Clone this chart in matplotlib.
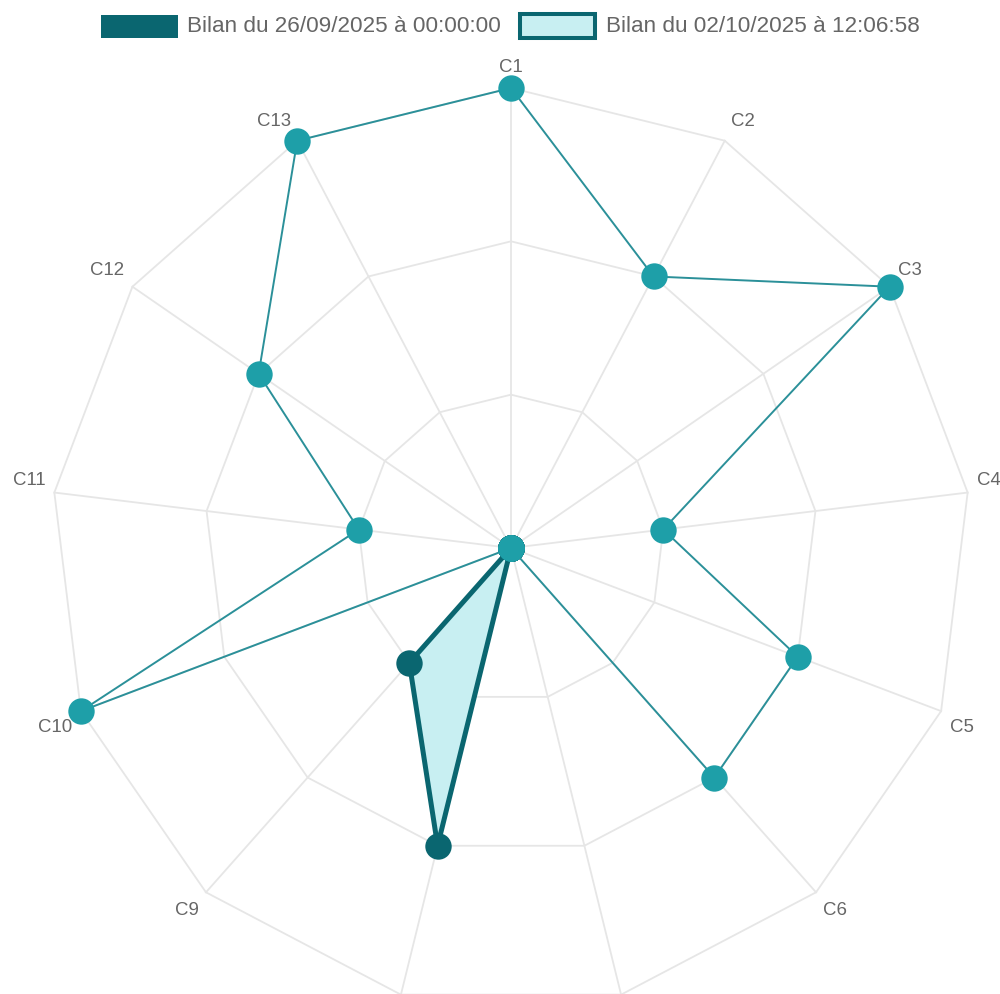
import numpy as np
import matplotlib
matplotlib.use("Agg")
import matplotlib.pyplot as plt
from matplotlib.patches import Rectangle

# ---- data ----
categories = ["C1", "C2", "C3", "C4", "C5", "C6", "C7", "C8", "C9", "C10", "C11", "C12", "C13"]
bilan_2609 = [3, 2, 3, 1, 2, 2, 0, 0, 0, 3, 1, 2, 3]
bilan_0210 = [0, 0, 0, 0, 0, 0, 0, 2, 1, 0, 0, 0, 0]
legend_labels = ["Bilan du 26/09/2025 à 00:00:00", "Bilan du 02/10/2025 à 12:06:58"]
ring_values = [1, 2, 3]
r_max = 3

# ---- style ----
DARK = "#0a6670"
TEAL_LINE = "#2b9099"
TEAL_PT = "#1e9fa8"
FILL = "#c8eff2"
GRID = "#e6e6e6"
TXT = "#666666"
FONT = ["Liberation Sans", "DejaVu Sans"]

W, H = 1000, 994
cx, cy = 511, 548          # centre in pixels (from top-left)
R_PX = 460                 # outer ring radius in pixels
s = R_PX / r_max           # px per unit

fig = plt.figure(figsize=(W / 100, H / 100), dpi=100)
ax = fig.add_axes([0, 0, 1, 1])
ax.set_xlim((0 - cx) / s, (W - cx) / s)
ax.set_ylim((cy - H) / s, cy / s)
ax.axis("off")

n = len(categories)
theta = np.deg2rad(90 - np.arange(n) * 360 / n)
cos, sin = np.cos(theta), np.sin(theta)

# grid rings
for rv in ring_values:
    xs = np.append(rv * cos, rv * cos[0])
    ys = np.append(rv * sin, rv * sin[0])
    ax.plot(xs, ys, color=GRID, lw=1.3, zorder=1, solid_joinstyle="miter")
# spokes
for i in range(n):
    ax.plot([0, r_max * cos[i]], [0, r_max * sin[i]], color=GRID, lw=1.3, zorder=1)

# point labels (labels falling below the canvas are not visible, as in the original)
for i, lab in enumerate(categories):
    c, sn = cos[i], sin[i]
    if abs(c) < 0.05:
        ha, dx = "center", 0
    elif c > 0:
        ha, dx = "left", 4 + 5 * abs(c)
    else:
        ha, dx = "right", -(4 + 5 * abs(c))
    if sn >= 0:
        dy = -(13 + 9 * sn)
    else:
        dy = 12 + 6 * abs(sn)
    y_px = cy - r_max * sn * s + dy
    if y_px - 8 > H:
        continue
    ax.annotate(lab, (r_max * c, r_max * sn), xytext=(dx, -(dy + 6.5)),
                textcoords="offset pixels", ha=ha, va="baseline",
                fontsize=13.4, color=TXT, family=FONT, zorder=2,
                annotation_clip=False)

# dataset 02/10 (filled, thick dark border)
v2 = np.array(bilan_0210, dtype=float)
x2 = np.append(v2 * cos, v2[0] * cos[0])
y2 = np.append(v2 * sin, v2[0] * sin[0])
ax.fill(x2, y2, color=FILL, zorder=3, lw=0)
ax.plot(x2, y2, color=DARK, lw=3.6, zorder=4, solid_joinstyle="round")
ax.plot(v2 * cos, v2 * sin, "o", color=DARK, ms=19, mew=0, zorder=5)

# dataset 26/09 (thin teal line)
v1 = np.array(bilan_2609, dtype=float)
x1 = np.append(v1 * cos, v1[0] * cos[0])
y1 = np.append(v1 * sin, v1[0] * sin[0])
ax.plot(x1, y1, color=TEAL_LINE, lw=1.4, zorder=6)
ax.plot(v1 * cos, v1 * sin, "o", color=TEAL_PT, ms=19, mew=0, zorder=7)

# ---- legend (manual) ----
def fx(px):
    return px / W

def fy(py):
    return 1 - py / H

fig.patches.append(Rectangle((fx(101), fy(38)), fx(178) - fx(101), fy(15) - fy(38),
                             transform=fig.transFigure, facecolor=DARK, edgecolor="none"))
fig.patches.append(Rectangle((fx(520), fy(38)), fx(595) - fx(520), fy(14) - fy(38),
                             transform=fig.transFigure, facecolor=FILL, edgecolor=DARK,
                             lw=2.9))
fig.text(fx(187), fy(32.5), legend_labels[0], ha="left", va="baseline",
         fontsize=16.2, color=TXT, family=FONT)
fig.text(fx(606), fy(32.5), legend_labels[1], ha="left", va="baseline",
         fontsize=16.2, color=TXT, family=FONT)

fig.savefig("out.png", dpi=100, facecolor="white")
